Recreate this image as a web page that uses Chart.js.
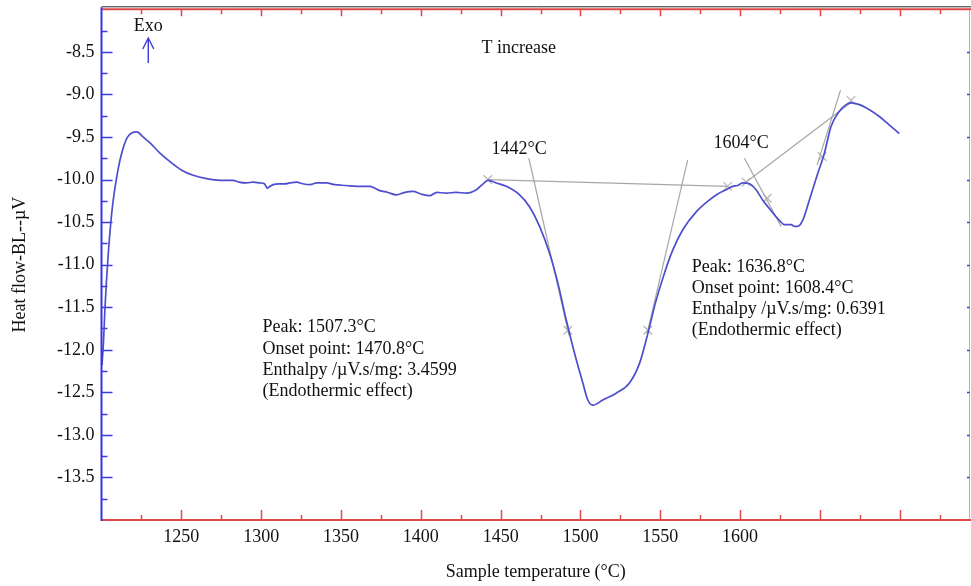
<!DOCTYPE html>
<html><head><meta charset="utf-8">
<script src="https://cdn.jsdelivr.net/npm/chart.js@4.4.0/dist/chart.umd.min.js"></script>
<style>html,body{margin:0;padding:0;background:#fff;overflow:hidden}#wrap{width:971px;height:586px;position:relative}</style>
</head><body><div id="wrap"><canvas id="c" width="971" height="586"></canvas></div>
<script>
// ---- data (°C, µV) ----
const temperature = [1200.3,1201.3,1202.2,1204.1,1206.6,1210.3,1212.8,1216.0,1219.1,1222.2,1226.0,1230.4,1236.6,1242.9,1250.2,1257.4,1265.8,1274.2,1282.5,1286.0,1290.9,1295.0,1299.2,1302.0,1303.8,1305.5,1307.5,1311.0,1314.8,1318.0,1322.2,1326.0,1330.5,1335.0,1340.9,1346.0,1353.4,1360.0,1368.0,1371.0,1374.3,1379.0,1384.7,1390.0,1395.1,1400.0,1405.6,1410.0,1416.0,1422.0,1428.5,1434.8,1438.5,1442.0,1444.5,1447.3,1453.6,1461.9,1468.1,1474.4,1480.7,1485.9,1491.1,1496.3,1501.5,1504.6,1507.8,1514.0,1522.4,1530.7,1537.0,1542.2,1547.4,1552.6,1557.8,1564.1,1572.5,1580.8,1586.0,1591.2,1595.4,1598.5,1601.6,1605.8,1610.0,1614.1,1618.3,1624.6,1627.7,1631.9,1634.0,1636.0,1639.2,1643.4,1648.6,1652.8,1656.9,1662.1,1666.4,1669.5,1674.7,1681.0,1687.2,1693.5,1699.7];
const heatFlow = [-12.18,-11.89,-11.50,-10.91,-10.36,-9.89,-9.68,-9.51,-9.45,-9.44,-9.50,-9.57,-9.69,-9.79,-9.89,-9.95,-9.99,-10.01,-10.01,-10.03,-10.04,-10.03,-10.04,-10.05,-10.10,-10.08,-10.06,-10.05,-10.05,-10.04,-10.03,-10.05,-10.06,-10.04,-10.04,-10.06,-10.07,-10.08,-10.08,-10.10,-10.13,-10.15,-10.18,-10.15,-10.14,-10.17,-10.19,-10.15,-10.16,-10.15,-10.16,-10.12,-10.06,-10.01,-10.02,-10.04,-10.08,-10.18,-10.32,-10.55,-10.87,-11.22,-11.65,-12.04,-12.39,-12.59,-12.65,-12.59,-12.51,-12.39,-12.16,-11.81,-11.42,-11.10,-10.83,-10.59,-10.38,-10.24,-10.17,-10.12,-10.08,-10.07,-10.04,-10.05,-10.12,-10.24,-10.34,-10.48,-10.53,-10.53,-10.55,-10.55,-10.48,-10.24,-9.93,-9.69,-9.38,-9.20,-9.12,-9.10,-9.12,-9.18,-9.26,-9.36,-9.46];

// construction lines (baselines and tangents): [x1, y1, x2, y2]
const baseline1 = [1442.0, -10.00, 1592.2, -10.08];
const tangentL1 = [1467.7, -9.75, 1492.8, -11.83];
const tangentR1 = [1567.2, -9.77, 1541.7, -11.81];
const baseline2 = [1603.8, -10.03, 1670.5, -9.08];
const tangentL2 = [1602.7, -9.75, 1625.7, -10.55];
const tangentR2 = [1662.9, -8.95, 1648.2, -9.83];
// marker points
const markerT = [1442.0, 1492.1, 1542.2, 1592.2, 1603.8, 1617.0, 1651.4, 1669.5];
const markerV = [-10.00, -11.77, -11.77, -10.08, -10.03, -10.22, -9.73, -9.07];

// tick labels
const xTickLabels = [1250, 1300, 1350, 1400, 1450, 1500, 1550, 1600];
const yTickLabels = [-8.5, -9.0, -9.5, -10.0, -10.5, -11.0, -11.5, -12.0, -12.5, -13.0, -13.5];

// texts
const peakLabels = ['1442°C', '1604°C'];
const leftNote = ['Peak: 1507.3°C', 'Onset point: 1470.8°C', 'Enthalpy /µV.s/mg: 3.4599', '(Endothermic effect)'];
const rightNote = ['Peak: 1636.8°C', 'Onset point: 1608.4°C', 'Enthalpy /µV.s/mg: 0.6391', '(Endothermic effect)'];
const xTitle = 'Sample temperature (°C)';
const yTitle = 'Heat flow-BL--µV';
const exoText = 'Exo';
const tIncText = 'T increase';

const FONT = 'Liberation Serif';
const toSeg = s => [{x: s[0], y: s[1]}, {x: s[2], y: s[3]}];
const grey = 'rgba(150,150,150,0.85)';
const segDs = s => ({type: 'line', data: toSeg(s), borderColor: grey, borderWidth: 1.2, pointRadius: 0, fill: false});

const deco = {
  id: 'deco',
  beforeDatasetsDraw(chart) {
    const {ctx, chartArea: a, scales: {x, y}} = chart;
    ctx.save();
    ctx.strokeStyle = '#e04848';
    ctx.lineWidth = 1.5;
    for (let v = 1225; v <= 1725; v += 25) {
      const px = Math.round(x.getPixelForValue(v)) + 0.5;
      const major = v % 50 === 0;
      ctx.beginPath();
      ctx.moveTo(px, a.bottom); ctx.lineTo(px, a.bottom - (major ? 10 : 5));
      ctx.moveTo(px, a.top); ctx.lineTo(px, a.top + (major ? 7 : 5));
      ctx.stroke();
    }
    ctx.strokeStyle = '#3b3be0';
    for (let v = -13.75; v <= -8.2; v += 0.25) {
      const py = Math.round(y.getPixelForValue(v)) + 0.5;
      const major = Math.abs(v * 2 - Math.round(v * 2)) < 1e-6;
      ctx.beginPath();
      ctx.moveTo(a.left, py); ctx.lineTo(a.left + (major ? 11 : 6), py);
      ctx.stroke();
      if (major) {
        ctx.beginPath();
        ctx.moveTo(a.right, py); ctx.lineTo(a.right - 3, py);
        ctx.stroke();
      }
    }
    ctx.restore();
  },
  afterDatasetsDraw(chart) {
    const {ctx, chartArea: a, scales: {x, y}} = chart;
    ctx.save();
    ctx.strokeStyle = '#222'; ctx.lineWidth = 1;
    ctx.beginPath(); ctx.moveTo(a.left, a.top - 2.5); ctx.lineTo(a.right + 2, a.top - 2.5); ctx.stroke();
    ctx.strokeStyle = '#e04848'; ctx.lineWidth = 2;
    ctx.beginPath(); ctx.moveTo(a.left, a.top); ctx.lineTo(a.right + 2, a.top); ctx.stroke();
    ctx.beginPath(); ctx.moveTo(a.left, a.bottom); ctx.lineTo(a.right + 2, a.bottom); ctx.stroke();
    ctx.strokeStyle = 'rgba(120,120,230,0.6)'; ctx.lineWidth = 1;
    ctx.beginPath(); ctx.moveTo(a.right - 0.5, a.top); ctx.lineTo(a.right - 0.5, a.bottom); ctx.stroke();
    ctx.strokeStyle = '#3535e0'; ctx.lineWidth = 2;
    ctx.beginPath(); ctx.moveTo(a.left, a.top - 2); ctx.lineTo(a.left, a.bottom + 1); ctx.stroke();

    const ax = x.getPixelForValue(1229.3);
    const ay1 = y.getPixelForValue(-8.63), ay2 = y.getPixelForValue(-8.337);
    ctx.strokeStyle = '#3a3ad8'; ctx.lineWidth = 1.4;
    ctx.beginPath(); ctx.moveTo(ax, ay1); ctx.lineTo(ax, ay2);
    ctx.moveTo(ax - 5.5, ay2 + 11); ctx.lineTo(ax, ay2); ctx.lineTo(ax + 5.5, ay2 + 11);
    ctx.stroke();

    ctx.fillStyle = '#111';
    ctx.font = `18px "${FONT}"`;
    ctx.textBaseline = 'middle';
    ctx.textAlign = 'center';
    ctx.fillText(exoText, ax, y.getPixelForValue(-8.204));
    ctx.fillText(tIncText, x.getPixelForValue(1461.3), y.getPixelForValue(-8.455));
    ctx.fillText(peakLabels[0], x.getPixelForValue(1461.6), y.getPixelForValue(-9.645));
    ctx.fillText(peakLabels[1], x.getPixelForValue(1600.6), y.getPixelForValue(-9.575));
    ctx.textAlign = 'left';
    const lh = 21.2;
    let lx = x.getPixelForValue(1300.9), ly = y.getPixelForValue(-11.741);
    leftNote.forEach((t, i) => ctx.fillText(t, lx, ly + i * lh));
    lx = x.getPixelForValue(1569.7); ly = y.getPixelForValue(-11.025);
    rightNote.forEach((t, i) => ctx.fillText(t, lx, ly + i * lh));
    ctx.restore();
  }
};

new Chart(document.getElementById('c'), {
  type: 'line',
  data: {
    datasets: [
      {data: temperature.map((t, i) => ({x: t, y: heatFlow[i]})), borderColor: '#4d4dcf', borderWidth: 1.7, pointRadius: 0, cubicInterpolationMode: 'monotone', fill: false},
      {type: 'scatter', data: markerT.map((t, i) => ({x: t, y: markerV[i]})), pointStyle: 'crossRot', pointRadius: 6, borderColor: 'rgba(170,170,170,0.85)', borderWidth: 1.3, backgroundColor: 'transparent'},
      segDs(baseline1), segDs(tangentL1), segDs(tangentR1),
      segDs(baseline2), segDs(tangentL2), segDs(tangentR2)
    ]
  },
  options: {
    responsive: false,
    animation: false,
    devicePixelRatio: 1,
    layout: {autoPadding: false, padding: {top: 9.3, right: 1, left: 0, bottom: 0}},
    plugins: {legend: {display: false}, tooltip: {enabled: false}},
    scales: {
      x: {
        type: 'linear', min: 1200, max: 1744,
        grid: {display: false, drawTicks: false}, border: {display: false},
        afterFit: s => { s.height = 66; s.paddingLeft = 0; s.paddingRight = 0; },
        ticks: {
          stepSize: 50, autoSkip: false, maxRotation: 0, padding: 6, color: '#111',
          font: {family: FONT, size: 18},
          callback: v => xTickLabels.includes(v) ? String(v) : ''
        },
        title: {display: true, text: xTitle, color: '#111', font: {family: FONT, size: 18}, padding: {top: 0, bottom: 3}}
      },
      y: {
        type: 'linear', min: -14, max: -8,
        grid: {display: false, drawTicks: false}, border: {display: false},
        afterFit: s => { s.width = 101.5; s.paddingTop = 0; s.paddingBottom = 0; },
        ticks: {
          stepSize: 0.5, autoSkip: false, padding: 7, color: '#111',
          font: {family: FONT, size: 18},
          callback: v => yTickLabels.some(t => Math.abs(t - v) < 1e-6) ? v.toFixed(1) : ''
        },
        title: {display: true, text: yTitle, color: '#111', font: {family: FONT, size: 18}, padding: {top: 9, bottom: 0}}
      }
    }
  },
  plugins: [deco]
});
</script></body></html>
